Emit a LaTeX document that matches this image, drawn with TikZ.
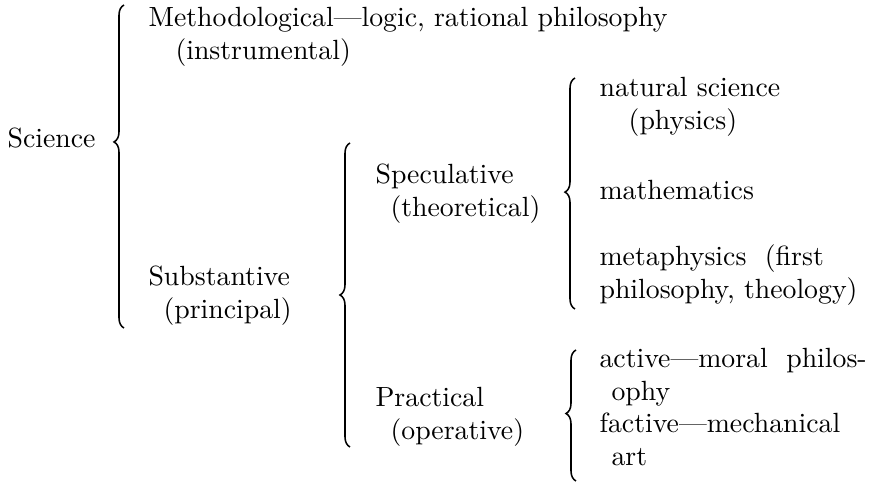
\documentclass[tikz,border=0pt]{standalone}
\usepackage{tikz}
\usetikzlibrary{decorations.pathreplacing}

\begin{document}
\begin{tikzpicture}[
   x=0.36pt, y=-0.36pt,
   item/.style={anchor=base west, inner sep=0pt, align=left, font=\normalsize},
   brc/.style={decorate, line width=0.55pt,
               decoration={brace, amplitude=3.6pt, aspect=#1}},
   brc/.default=0.5,
]
\useasboundingbox (0,0) rectangle (873,482);
% level 0 (base of last line)
\node[item] (sci) at (7,148) {Science};
% level 1
\node[item] (meth) at (148,60)
  {Methodological---logic, rational philosophy\\\hspace*{9.7pt}(instrumental)};
\node[item] (subst) at (148,319)
  {Substantive\\\hspace*{5.4pt}(principal)};
% level 2
\node[item] (spec) at (375,217)
  {Speculative\\\hspace*{5.4pt}(theoretical)};
\node[item] (prac) at (375,440)
  {Practical\\\hspace*{5.4pt}(operative)};
% level 3
\node[item] (nat) at (599,130)
  {natural science\\\hspace*{10.5pt}(physics)};
\node[item] (math) at (599,200) {mathematics};
\node[item] (meta) at (599,299)
  {metaphysics\ \ (first\\philosophy, theology)};
\node[item] (act) at (599,401)
  {active---moral\ \ philos-\\\hspace*{4.3pt}ophy};
\node[item] (fact) at (599,466)
  {factive---mechanical\\\hspace*{4.3pt}art};
% brace ends
\coordinate (b1t) at (124,5);   \coordinate (b1b) at (124,328);
\coordinate (b2t) at (350,143); \coordinate (b2b) at (350,447);
\coordinate (b3t) at (575,78);  \coordinate (b3b) at (575,309);
\coordinate (b4t) at (576,350); \coordinate (b4b) at (576,481);
% braces
\draw[brc=0.576] (b1b) -- (b1t);
\draw[brc=0.5] (b2b) -- (b2t);
\draw[brc=0.506] (b3b) -- (b3t);
\draw[brc=0.515] (b4b) -- (b4t);
\end{tikzpicture}
\end{document}
